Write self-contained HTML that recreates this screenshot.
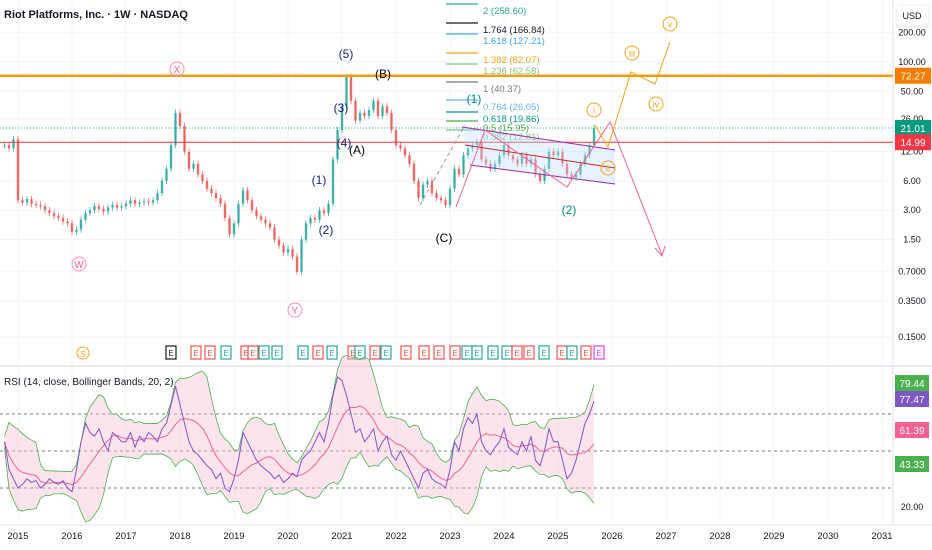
<!DOCTYPE html>
<html><head><meta charset="utf-8"><style>
html,body{margin:0;padding:0;background:#fff;}
svg{display:block;font-family:"Liberation Sans",sans-serif;}
</style></head><body>
<svg id="chart" width="932" height="550" viewBox="0 0 932 550">
<g id="grid"></g>
<g id="candles"></g>
<g id="overlay"></g>
<g id="rsi"></g>
<g id="axes"></g>
</svg>
<script>
const years=["2015","2016","2017","2018","2019","2020","2021","2022","2023","2024","2025","2026","2027","2028","2029","2030","2031"];
const priceTicks=[200,100,50,26,12,6,3,1.5,0.7,0.35,0.15];
const rsiTicks=[70,50,30];
// monthly closes from 2014-10 to 2025-09
const closes=[14,13,16,
3.8,3.6,3.9,3.5,3.4,3.3,3.0,2.8,2.6,2.5,2.3,2.2,
1.8,1.9,2.4,2.8,3.0,3.3,3.1,2.9,3.2,3.4,3.2,3.3,
3.5,3.8,3.5,3.6,3.7,3.6,3.8,4.5,6,8,14,30,
22,12,8,9,7,6,5,4.5,4,3.5,2.5,1.7,
2.2,3.5,4.8,3.8,3,2.6,2.4,2.2,2,1.5,1.3,1.1,
1.2,1.0,0.7,1.5,2.2,2.5,2.4,3,2.8,3.5,10,20,
35,70,40,25,30,28,32,40,28,35,30,20,
14,13,11,9,6,4,5.5,6,4.5,4,3.8,3.4,
5,8,7,11,13,14,15,10,9,8,9,11,
14,11,10,9,11,9,10,7,6,8,12,11,
12,9,7,6.5,7,9,11,14,21];
const rsiVals=[55,40,35,
30,32,35,33,34,30,32,35,33,32,34,30,
28,40,55,65,60,58,62,55,50,60,58,55,
55,60,52,58,55,60,58,55,62,65,75,85,
75,65,55,50,48,45,42,40,35,38,30,28,
35,45,60,55,50,45,42,40,38,35,37,33,
35,38,36,45,48,50,55,60,55,65,80,90,
88,80,70,60,62,55,58,62,50,55,58,48,
45,50,45,40,35,30,38,40,35,33,32,30,
40,55,50,62,68,65,70,55,50,48,52,55,
62,52,50,48,55,50,58,45,42,50,62,55,
55,45,35,38,45,55,65,70,77];
const fibLevels=["2 (258.60)","1.764 (166.84)","1.618 (127.21)","1.382 (82.07)","1.236 (62.58)","1 (40.37)","0.764 (26.05)","0.618 (19.86)","0.5 (15.95)","0.382 (12.81)"];
const fibColors=["#26a69a","#131722","#42a5f5","#f7a21b","#81c784","#787b86","#64b5f6","#089981","#4caf50","#81c784"];
const fibY=[11,30,41,60,71,89,107,119,128,137];
const earnX=[171,196,210,226,246,253,264,277,303,318,332,353,360,375,386,406,424,439,455,467,477,493,507,517,529,544,562,572,586];
const earnBeat=[2,0,0,1,0,0,1,1,1,0,1,0,1,0,1,0,0,0,0,1,1,1,1,0,0,1,0,1];

const NS="http://www.w3.org/2000/svg";
function el(p,t,a,txt){const e=document.createElementNS(NS,t);for(const k in a)e.setAttribute(k,a[k]);if(txt!=null)e.textContent=txt;p.appendChild(e);return e;}
const yP=p=>62-29.3*Math.log2(p/100);
const xM=i=>18+4.5*(i-3);
const yR=v=>451-(v-50)*1.85;
const G=document.getElementById('grid'),C=document.getElementById('candles'),O=document.getElementById('overlay'),R=document.getElementById('rsi'),A=document.getElementById('axes');

years.forEach((y,i)=>{const x=18+54*i;let l=el(G,'line',{x1:x,x2:x,y1:0,y2:525,stroke:'#f0f3fa'});});
priceTicks.forEach(p=>{let l=el(G,'line',{x1:0,x2:893,y1:yP(p),y2:yP(p),stroke:'#f0f3fa'});});
el(G,'line',{x1:0,x2:932,y1:366,y2:366,stroke:'#e0e3eb','stroke-width':1.5});
el(G,'line',{x1:893,x2:893,y1:0,y2:525,stroke:'#e0e3eb'});

closes.forEach((c,i)=>{const o=i?closes[i-1]:c;const up=c>=o;const col=up?'#26a69a':'#ef5350';const x=xM(i);
 const hi=Math.max(o,c)*1.08,lo=Math.min(o,c)/1.08;
 let w=el(C,'line',{x1:x,x2:x,y1:yP(hi),y2:yP(lo),stroke:col,'stroke-width':0.7});
 
 let b=el(C,'rect',{x:x-1.2,y:yP(Math.max(o,c)),width:2.4,height:Math.max(1,yP(Math.min(o,c))-yP(Math.max(o,c))),fill:col,opacity:0.8});
 });

el(O,'line',{x1:0,x2:893,y1:yP(72.27),y2:yP(72.27),stroke:'#f59d0b','stroke-width':2.5,});
el(O,'line',{x1:0,x2:893,y1:yP(14.99),y2:yP(14.99),stroke:'#e53935','stroke-width':1,});
el(O,'line',{x1:0,x2:893,y1:yP(21.01),y2:yP(21.01),stroke:'#26a69a','stroke-width':1,'stroke-dasharray':'1 2',});

fibLevels.forEach((t,i)=>{let l=el(O,'line',{x1:446,x2:478,y1:fibY[i]-7,y2:fibY[i]-7,stroke:fibColors[i],'stroke-width':1.3});
 let tx=el(O,'text',{x:483,y:fibY[i]+3,'font-size':9.5,fill:fibColors[i]},t);});

el(O,'polygon',{points:'462,127 615,150 615,184 470,165',fill:'#bbdefb',opacity:0.35,});
el(O,'line',{x1:462,y1:127,x2:615,y2:150,stroke:'#9c27b0','stroke-width':1,});
el(O,'line',{x1:470,y1:165,x2:615,y2:184,stroke:'#9c27b0','stroke-width':1,});
el(O,'line',{x1:465,y1:145,x2:615,y2:168,stroke:'#c62828','stroke-width':1,});
el(O,'line',{x1:420,y1:205,x2:465,y2:125,stroke:'#999','stroke-width':1,'stroke-dasharray':'4 3',});
el(O,'polyline',{points:'456,207 485,130 567,187 610,122 662,255',fill:'none',stroke:'#f06292','stroke-width':1,});
el(O,'polyline',{points:'655,248 662,256 665,246',fill:'none',stroke:'#f06292','stroke-width':1});
el(O,'polyline',{points:'595,125 608,147 631,72 655,84 670,42',fill:'none',stroke:'#f7a21b','stroke-width':1,});

const circ=[["i",594,110],["ii",608,168],["iii",632,53],["iv",656,104],["v",670,24]];
circ.forEach(c=>{el(O,'circle',{cx:c[1],cy:c[2],r:7,fill:'none',stroke:'#f7a21b'});let t=el(O,'text',{x:c[1],y:c[2]+3.5,'font-size':9,fill:'#f7a21b','text-anchor':'middle'},c[0]);});
[["W",79,264],["X",177,69],["Y",295,310]].forEach(c=>{el(O,'circle',{cx:c[1],cy:c[2],r:7,fill:'none',stroke:'#f48fb1'});let t=el(O,'text',{x:c[1],y:c[2]+4,'font-size':10,fill:'#f06292','text-anchor':'middle'},c[0]);});
[["(5)",346,58,"#1a237e"],["(3)",341,112,"#1a237e"],["(4)",344,147,"#1a237e"],["(1)",319,184,"#1a237e"],["(2)",326,234,"#1a237e"],["(A)",357,154,"#000"],["(B)",383,78,"#000"],["(C)",444,242,"#000"],["(1)",474,103,"#00897b"],["(2)",569,214,"#00897b"]].forEach(c=>{let t=el(O,'text',{x:c[1],y:c[2],'font-size':12,fill:c[3],'text-anchor':'middle'},c[0]);});

el(O,'circle',{cx:83,cy:353,r:6,fill:'none',stroke:'#f7a21b'});
el(O,'text',{x:83,y:357,'font-size':8,fill:'#f7a21b','text-anchor':'middle'},'S');
earnX.forEach((x,i)=>{const col=earnBeat[i]===2?'#131722':(earnBeat[i]?'#26a69a':'#ef5350');let r=el(O,'rect',{x:x-5,y:346,width:10,height:13,fill:'#fff',stroke:col,'stroke-width':1.2});el(O,'text',{x:x,y:356,'font-size':8,fill:col,'text-anchor':'middle'},'E');});
el(O,'rect',{x:594,y:346,width:10,height:13,fill:'#fff',stroke:'#e040fb','stroke-width':1.2});el(O,'text',{x:599,y:356,'font-size':8,fill:'#e040fb','text-anchor':'middle'},'E');

rsiTicks.forEach(v=>{let l=el(R,'line',{x1:0,x2:893,y1:yR(v),y2:yR(v),stroke:'#787b86','stroke-dasharray':'3 3'});});
const N=8,ma=[],up=[],lo=[];
rsiVals.forEach((v,i)=>{const s=rsiVals.slice(Math.max(0,i-N+1),i+1);const m=s.reduce((a,b)=>a+b,0)/s.length;const sd=Math.sqrt(s.reduce((a,b)=>a+(b-m)*(b-m),0)/s.length);ma.push(m);up.push(m+2*sd+3);lo.push(m-2*sd-3);});
const pts=arr=>arr.map((v,i)=>xM(i)+','+yR(v)).join(' ');
el(R,'polygon',{points:pts(up)+' '+lo.map((v,i)=>xM(i)+','+yR(v)).reverse().join(' '),fill:'#f8bbd0',opacity:0.4,});
el(R,'polyline',{points:pts(up),fill:'none',stroke:'#4caf50','stroke-width':0.8,});
el(R,'polyline',{points:pts(lo),fill:'none',stroke:'#4caf50','stroke-width':0.8,});
el(R,'polyline',{points:pts(ma),fill:'none',stroke:'#f06292','stroke-width':1,});
el(R,'polyline',{points:pts(rsiVals),fill:'none',stroke:'#7e57c2','stroke-width':1,});
el(R,'text',{x:4,y:385,'font-size':10,fill:'#131722',},'RSI (14, close, Bollinger Bands, 20, 2)');

el(A,'text',{x:4,y:18,'font-size':11,fill:'#131722','font-weight':'bold',},'Riot Platforms, Inc. · 1W · NASDAQ');
el(A,'rect',{x:896,y:5,width:33,height:22,rx:3,fill:'#fff',stroke:'#eee'});
el(A,'text',{x:912,y:19,'font-size':9,fill:'#131722','text-anchor':'middle',},'USD');
priceTicks.forEach(p=>{let t=el(A,'text',{x:912,y:yP(p)+3,'font-size':9,fill:'#131722','text-anchor':'middle'},p>=1?p.toFixed(2):p.toFixed(4));});
[["72.27","#f57c00",72.27],["21.01","#089981",21.01],["14.99","#f23645",14.99]].forEach(b=>{const y=yP(b[2]);let r=el(A,'rect',{x:895,y:y-8,width:36,height:16,fill:b[1]});el(A,'text',{x:913,y:y+4,'font-size':10,fill:'#fff','text-anchor':'middle'},b[0]);});
el(A,'text',{x:912,y:510,'font-size':9,fill:'#131722','text-anchor':'middle',},'20.00');
[["79.44","#4caf50",383],["77.47","#7e57c2",399],["61.39","#f06292",430],["43.33","#4caf50",464]].forEach(b=>{let r=el(A,'rect',{x:895,y:b[2]-8,width:34,height:16,fill:b[1]});el(A,'text',{x:912,y:b[2]+4,'font-size':10,fill:'#fff','text-anchor':'middle'},b[0]);});
el(A,'line',{x1:0,x2:932,y1:525,y2:525,stroke:'#e0e3eb'});
years.forEach((y,i)=>{let t=el(A,'text',{x:18+54*i,y:539,'font-size':9.5,fill:'#131722','text-anchor':'middle'},y);});
</script>
</body></html>
